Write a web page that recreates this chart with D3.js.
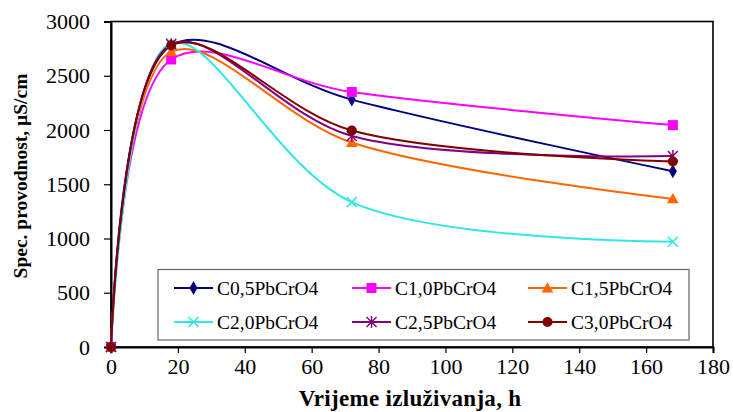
<!DOCTYPE html>
<html><head><meta charset="utf-8">
<script src="https://cdn.jsdelivr.net/npm/d3@7"></script>
<style>body{margin:0;background:#fff}svg{display:block}</style>
</head><body>
<svg id="c" width="733" height="412"></svg>
<script>
const times = [0, 18, 72, 168];
const seriesNames = ["C0,5PbCrO4","C1,0PbCrO4","C1,5PbCrO4","C2,0PbCrO4","C2,5PbCrO4","C3,0PbCrO4"];
const c05 = [0, 2780, 2280, 1620];
const c10 = [0, 2650, 2350, 2045];
const c15 = [0, 2720, 1885, 1365];
const c20 = [0, 2800, 1335, 970];
const c25 = [0, 2790, 1945, 1760];
const c30 = [0, 2780, 1995, 1710];
const seriesColors = ["#000080","#FF00FF","#FF6600","#33E6E6","#800080","#800000"];
const seriesMarkers = ["diamond","square","triangle","x","star","circle"];
const xTicks = [0,20,40,60,80,100,120,140,160,180];
const yTicks = [0,500,1000,1500,2000,2500,3000];
const xTitle = "Vrijeme izluživanja, h";
const yTitle = "Spec. provodnost, µS/cm";

const values = [c05,c10,c15,c20,c25,c30];
const svg = d3.select("#c");
const font = '"Liberation Serif"';
const x = d3.scaleLinear().domain([0,180]).range([111,713]);
const y = d3.scaleLinear().domain([0,3000]).range([347,21.5]);

svg.append("rect").attr("x",111).attr("y",21.5).attr("width",602).attr("height",325.5)
  .attr("fill","none").attr("stroke","#000").attr("stroke-width",1.6);

const xa = svg.append("g").attr("transform","translate(0,347)")
  .call(d3.axisBottom(x).tickValues(xTicks).tickSize(6).tickPadding(5).tickFormat(d3.format("d")));
const ya = svg.append("g").attr("transform","translate(111,0)")
  .call(d3.axisLeft(y).tickValues(yTicks).tickSize(7).tickPadding(14).tickFormat(d3.format("d")));
[xa,ya].forEach(a=>{
  a.select(".domain").attr("stroke","#000").attr("stroke-width",2);
  a.selectAll(".tick line").attr("stroke","#000").attr("stroke-width",1.2);
  a.selectAll("text").style("font-family",font).style("font-size","22px").attr("fill","#000");
});

function marker(g, type, color, cx, cy){
  if(type==="diamond"){
    g.append("path").attr("d",d3.symbol(d3.symbolDiamond,55)()).attr("transform",`translate(${cx},${cy})`).attr("fill",color);
  } else if(type==="square"){
    g.append("rect").attr("x",cx-5).attr("y",cy-5).attr("width",10).attr("height",10).attr("fill",color);
  } else if(type==="triangle"){
    g.append("path").attr("d",d3.symbol(d3.symbolTriangle,60)()).attr("transform",`translate(${cx},${cy+1})`).attr("fill",color);
  } else if(type==="circle"){
    g.append("circle").attr("cx",cx).attr("cy",cy).attr("r",5).attr("fill",color);
  } else if(type==="x"){
    g.append("path").attr("d",`M${cx-5},${cy-5}L${cx+5},${cy+5}M${cx-5},${cy+5}L${cx+5},${cy-5}`).attr("stroke",color).attr("stroke-width",1.6);
  } else if(type==="star"){
    g.append("path").attr("d",`M${cx-5},${cy-5}L${cx+5},${cy+5}M${cx-5},${cy+5}L${cx+5},${cy-5}M${cx},${cy-6}L${cx},${cy+6}`).attr("stroke",color).attr("stroke-width",1.4);
  }
}

const line = d3.line().x(d=>x(d[0])).y(d=>y(d[1])).curve(d3.curveCatmullRom.alpha(0.5));
const pg = svg.append("g");
values.forEach((vals,i)=>{
  const pts = times.map((t,j)=>[t,vals[j]]);
  pg.append("path").attr("d",line(pts)).attr("fill","none").attr("stroke",seriesColors[i]).attr("stroke-width",2);
});
values.forEach((vals,i)=>{
  times.forEach((t,j)=>marker(pg, seriesMarkers[i], seriesColors[i], x(t), y(vals[j])));
});

const lg = svg.append("g");
lg.append("rect").attr("x",158).attr("y",269.5).attr("width",531).attr("height",70.5)
  .attr("fill","#fff").attr("stroke","#666").attr("stroke-width",1.2);
const colX = [174,352,528];
const rowY = [288,322];
seriesNames.forEach((n,i)=>{
  const cx = colX[i%3], cy = rowY[Math.floor(i/3)];
  lg.append("line").attr("x1",cx).attr("x2",cx+39).attr("y1",cy).attr("y2",cy).attr("stroke",seriesColors[i]).attr("stroke-width",2);
  marker(lg, seriesMarkers[i], seriesColors[i], cx+19.5, cy);
  lg.append("text").attr("x",cx+43).attr("y",cy+7).style("font-family",font).style("font-size","19.5px").attr("fill","#000").text(n);
});

svg.append("text").attr("x",410).attr("y",406).attr("text-anchor","middle")
  .style("font-family",font).style("font-weight","bold").style("font-size","23px").style("letter-spacing","0.3px").text(xTitle);
svg.append("text").attr("transform","translate(27,176) rotate(-90)").attr("text-anchor","middle")
  .style("font-family",font).style("font-weight","bold").style("font-size","19.5px").text(yTitle);
</script>
</body></html>
